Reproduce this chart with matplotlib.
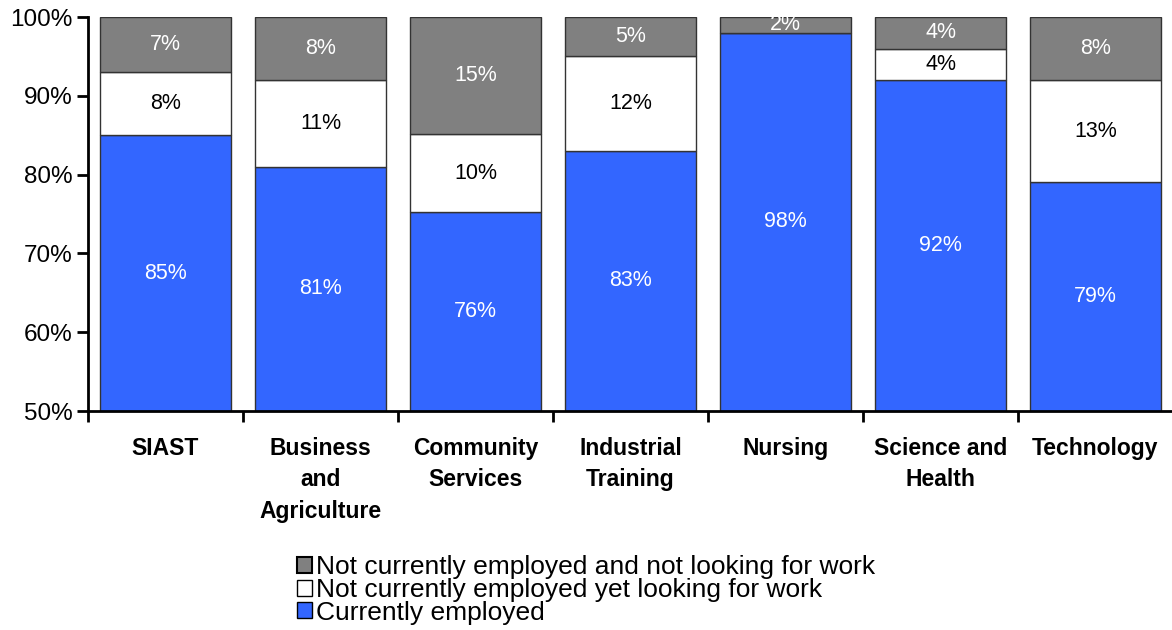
import matplotlib
matplotlib.use("Agg")
import matplotlib.pyplot as plt
import numpy as np
from matplotlib.patches import Patch

categories = ["SIAST", "Business\nand\nAgriculture", "Community\nServices",
              "Industrial\nTraining", "Nursing", "Science and\nHealth", "Technology"]
employed = [85, 81, 75.2, 83, 98, 92, 79]
looking = [8, 11, 9.95, 12, 0, 4, 13]
not_looking = [7, 8, 14.85, 5, 2, 4, 8]
employed_labels = ["85%", "81%", "76%", "83%", "98%", "92%", "79%"]
looking_labels = ["8%", "11%", "10%", "12%", "", "4%", "13%"]
not_looking_labels = ["7%", "8%", "15%", "5%", "2%", "4%", "8%"]
series_names = ["Currently employed", "Not currently employed yet looking for work",
                "Not currently employed and not looking for work"]
y_ticks = [50, 60, 70, 80, 90, 100]

plt.rcParams['font.family'] = ['Liberation Sans', 'DejaVu Sans']

fig = plt.figure(figsize=(11.72, 6.3), dpi=100)
ax = fig.add_axes([88/1172, 1-411/630, 1085/1172, (411-17)/630])

x = np.arange(len(categories))
w = 0.84
colors = ["#3366FF", "#FFFFFF", "#808080"]
text_colors = ["white", "black", "white"]
ymin = 50
bottom = np.zeros(len(categories))
for vals, labs, col, tc in zip([employed, looking, not_looking],
                               [employed_labels, looking_labels, not_looking_labels],
                               colors, text_colors):
    vals = np.array(vals, dtype=float)
    ax.bar(x, vals, w, bottom=bottom, color=col, edgecolor="#333333", linewidth=1.0, zorder=2)
    for i in range(len(x)):
        if labs[i]:
            lo = max(bottom[i], ymin)
            hi = bottom[i] + vals[i]
            ax.text(x[i], (lo + hi) / 2, labs[i], ha="center", va="center",
                    color=tc, fontsize=15.5, zorder=3)
    bottom = bottom + vals

ax.set_ylim(50, 100)
ax.set_xlim(-0.5, len(categories) - 0.5)
ax.set_yticks(y_ticks)
ax.set_yticklabels([f"{t}%" for t in y_ticks], fontsize=17.5)
ax.set_xticks(x)
ax.set_xticklabels(categories, fontsize=16.5, fontweight="bold", linespacing=1.45, va="top")
ax.set_xticks(np.arange(len(categories) + 1) - 0.5, minor=True)
ax.tick_params(axis="x", which="major", length=0, pad=19)
ax.tick_params(axis="x", which="minor", length=8, width=2, direction="out")
ax.tick_params(axis="y", length=8, width=2, direction="out", pad=3)
for s in ["top", "right"]:
    ax.spines[s].set_visible(False)
for s in ["left", "bottom"]:
    ax.spines[s].set_linewidth(2)
    ax.spines[s].set_zorder(4)

handles = [Patch(facecolor=colors[2], edgecolor="black", linewidth=1.5),
           Patch(facecolor=colors[1], edgecolor="black", linewidth=1.0),
           Patch(facecolor=colors[0], edgecolor="black", linewidth=1.0)]
labels = [series_names[2], series_names[1], series_names[0]]
fig.legend(handles, labels, loc="center", bbox_to_anchor=(0.5, 1-590/630),
           frameon=False, fontsize=19, handlelength=0.55, handleheight=0.55,
           handletextpad=0.15, labelspacing=-0.05, borderpad=0)

fig.savefig("out.png", dpi=100)
